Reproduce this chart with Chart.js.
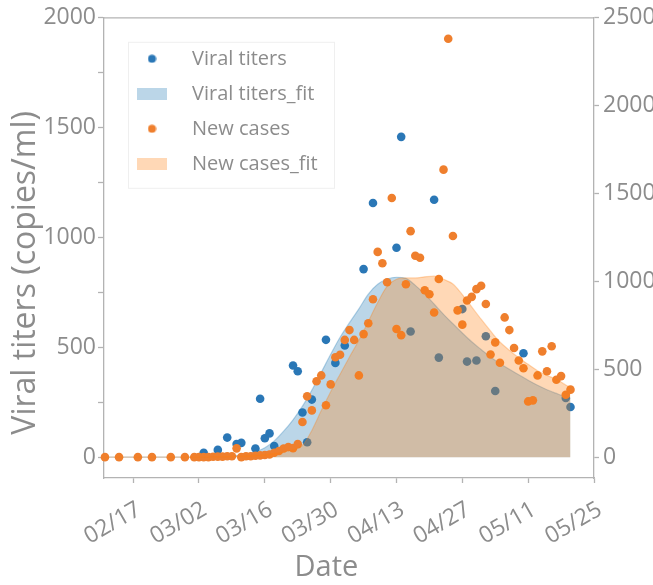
<!DOCTYPE html>
<html>
<head>
<meta charset="utf-8">
<script src="https://cdn.jsdelivr.net/npm/chart.js"></script>
<style>
  html, body { margin: 0; padding: 0; background: #fff; }
  canvas { display: block; }
</style>
</head>
<body>
<canvas id="chart" width="653" height="585"></canvas>
<script>
// x values are days counted from 02/17 (2020)
const dateTicks = ['02/17', '03/02', '03/16', '03/30', '04/13', '04/27', '05/11', '05/25'];
const tickDays = [0, 14, 28, 42, 56, 70, 84, 98];
const titerTicks = [0, 250, 500, 750, 1000, 1250, 1500, 1750, 2000];
const caseTicks = [0, 500, 1000, 1500, 2000, 2500];

// Viral titers (copies/ml), left axis
const titerDays = [15, 18, 20, 22, 23, 26, 27, 28, 29, 30, 34, 35, 36, 37, 38, 41, 43, 45, 49, 51,
  56, 57, 59, 64, 65, 70, 71, 73, 75, 77, 83, 92, 93];
const titerValues = [20, 33, 89, 60, 65, 39, 266, 86, 108, 51, 417, 391, 203, 68, 262, 534, 429, 508, 856, 1157,
  953, 1458, 572, 1172, 453, 674, 435, 440, 550, 301, 473, 269, 228];

// New cases, right axis
const caseDays = [-6, -3, 1, 4, 8, 11,
  13, 14, 15, 16, 17, 18, 19, 20, 21, 22, 23, 24, 25, 26, 27, 28, 29, 30, 31, 32,
  33, 34, 35, 36, 37, 38, 39, 40, 41, 42, 43, 44, 45, 46, 47, 48, 49, 50, 51, 52,
  53, 54, 55, 56, 57, 58, 59, 60, 61, 62, 63, 64, 65, 66, 67, 68, 69, 70, 71, 72,
  73, 74, 75, 76, 77, 78, 79, 80, 81, 82, 83, 84, 85, 86, 87, 88, 89, 90, 91, 92, 93];
const caseCounts = [0, 0, 0, 0, 0, 0,
  0, 0, 0, 0, 2, 3, 3, 5, 5, 50, 0, 5, 5, 8, 10, 12, 15, 25, 35, 49,
  58, 51, 74, 200, 346, 266, 432, 465, 295, 414, 568, 583, 667, 723, 667, 465, 700, 762, 898, 1168,
  1103, 995, 1475, 729, 694, 984, 1286, 1146, 1135, 950, 927, 823, 1014, 1636, 2381, 1258, 835, 754, 891, 912,
  956, 975, 871, 584, 653, 537, 795, 723, 621, 550, 506, 317, 323, 465, 602, 489, 631, 440, 461, 355, 384];

// fitted curves
const fitDays = [-6, 0, 8, 14, 16, 18, 20, 22, 24, 26, 28, 30, 32, 34, 36, 38, 40, 42, 44, 46, 48, 50,
  52, 54, 56, 58, 60, 62, 64, 66, 68, 70, 72, 74, 76, 78, 80, 82, 84, 86, 88, 90, 92, 93];
const titerFit = [0, 0, 0, 0, 1, 2, 4, 7, 13, 24, 43, 74, 118, 170, 232, 305, 386, 468, 546, 612, 675, 742,
  787, 811, 819, 814, 782, 742, 697, 650, 607, 565, 525, 490, 456, 426, 400, 375, 350, 327, 307, 290, 274, 268];
const caseFit = [0, 0, 0, 0, 1, 2, 3, 5, 7, 10, 14, 20, 29, 42, 66, 152, 265, 372, 472, 570, 665, 772,
  880, 972, 1012, 1020, 1020, 1026, 1030, 1012, 985, 925, 855, 785, 718, 655, 608, 565, 528, 492, 465, 443, 410, 397];

const BLUE = '#2a77b6';
const ORANGE = '#ef7f2d';
const BLUE_FILL = 'rgba(31,119,180,0.3)';
const ORANGE_FILL = 'rgba(255,127,14,0.3)';
const TEXT = '#8c8c8c';
const AXIS = '#b3b3b3';
const FONT = 'Open Sans';

const toPoints = (xs, ys) => xs.map((x, i) => ({x: x, y: ys[i]}));

function swatch(w, h, paint) {
    const c = document.createElement('canvas');
    c.width = w;
    c.height = h;
    paint(c.getContext('2d'));
    return c;
}
const dot = color => swatch(9, 9, ctx => {
    ctx.fillStyle = color;
    ctx.beginPath();
    ctx.arc(4.5, 4.5, 4, 0, Math.PI * 2);
    ctx.fill();
});
const patch = color => swatch(30, 12, ctx => {
    ctx.fillStyle = color;
    ctx.fillRect(0, 0, 30, 12);
});
const legendMarks = [dot(BLUE), patch(BLUE_FILL), dot(ORANGE), patch(ORANGE_FILL)];

// top spine, legend frame, and the legend moved a little into the plot
const framePlugin = {
    id: 'frame',
    afterLayout(chart) {
        const lg = chart.legend;
        const area = chart.chartArea;
        const h = lg.bottom - lg.top;
        lg.left = area.left + 3;
        lg.top = area.top + 16;
        lg.bottom = lg.top + h;
    },
    afterDraw(chart) {
        const {ctx, chartArea} = chart;
        ctx.save();
        ctx.strokeStyle = AXIS;
        ctx.lineWidth = 1.3;
        ctx.beginPath();
        ctx.moveTo(chartArea.left, chartArea.top);
        ctx.lineTo(chartArea.right, chartArea.top);
        ctx.stroke();
        ctx.strokeStyle = '#efefef';
        ctx.lineWidth = 1;
        ctx.strokeRect(chartArea.left + 24.5, chartArea.top + 24.5, 206, 146);
        ctx.restore();
    }
};

new Chart(
    document.getElementById('chart'),
    {
        type: 'scatter',
        data: {
            datasets: [
                {
                    label: 'Viral titers',
                    data: toPoints(titerDays, titerValues),
                    yAxisID: 'y',
                    backgroundColor: BLUE,
                    borderWidth: 0,
                    pointRadius: 4.3,
                    clip: false,
                    order: 4
                },
                {
                    type: 'line',
                    label: 'Viral titers_fit',
                    data: toPoints(fitDays, titerFit),
                    yAxisID: 'y',
                    backgroundColor: BLUE_FILL,
                    borderColor: BLUE_FILL,
                    borderWidth: 1.2,
                    pointRadius: 0,
                    fill: 'origin',
                    cubicInterpolationMode: 'monotone',
                    order: 3
                },
                {
                    label: 'New cases',
                    data: toPoints(caseDays, caseCounts),
                    yAxisID: 'y2',
                    backgroundColor: ORANGE,
                    borderWidth: 0,
                    pointRadius: 4.3,
                    clip: false,
                    order: 2
                },
                {
                    type: 'line',
                    label: 'New cases_fit',
                    data: toPoints(fitDays, caseFit),
                    yAxisID: 'y2',
                    backgroundColor: ORANGE_FILL,
                    borderColor: ORANGE_FILL,
                    borderWidth: 1.2,
                    pointRadius: 0,
                    fill: 'origin',
                    cubicInterpolationMode: 'monotone',
                    order: 1
                }
            ]
        },
        options: {
            responsive: false,
            animation: false,
            devicePixelRatio: 1,
            layout: {padding: {top: 16, left: 0, right: 0, bottom: 0}},
            plugins: {
                tooltip: {enabled: false},
                legend: {
                    position: 'chartArea',
                    align: 'start',
                    labels: {
                        usePointStyle: true,
                        pointStyleWidth: 60,
                        boxHeight: 12,
                        padding: 15,
                        color: TEXT,
                        font: {family: FONT, size: 20},
                        sort: (a, b) => a.datasetIndex - b.datasetIndex,
                        generateLabels: chart => {
                            const items = Chart.defaults.plugins.legend.labels.generateLabels(chart);
                            items.forEach(item => { item.pointStyle = legendMarks[item.datasetIndex]; });
                            return items;
                        }
                    }
                }
            },
            scales: {
                x: {
                    type: 'linear',
                    position: 'bottom',
                    min: -6.2,
                    max: 98,
                    afterBuildTicks: axis => { axis.ticks = tickDays.map(v => ({value: v})); },
                    afterFit: axis => { axis.height = 107; },
                    ticks: {
                        callback: value => dateTicks[tickDays.indexOf(value)],
                        minRotation: 30,
                        maxRotation: 30,
                        padding: 13,
                        labelOffset: 6,
                        color: TEXT,
                        font: {family: FONT, size: 23}
                    },
                    grid: {drawOnChartArea: false, tickLength: 5, tickColor: AXIS, tickWidth: 1.3},
                    border: {color: AXIS, width: 1.3},
                    title: {
                        display: true,
                        text: 'Date      ',
                        color: TEXT,
                        font: {family: FONT, size: 29},
                        padding: {top: 0, bottom: 0}
                    }
                },
                y: {
                    position: 'left',
                    min: -95,
                    max: 2000,
                    afterBuildTicks: axis => { axis.ticks = titerTicks.map(v => ({value: v})); },
                    afterFit: axis => { axis.width = 104; },
                    ticks: {
                        callback: value => (value % 500 === 0 ? String(value) : ''),
                        padding: 2,
                        color: TEXT,
                        font: {family: FONT, size: 23}
                    },
                    grid: {drawOnChartArea: false, tickLength: 6, tickColor: AXIS, tickWidth: 1.3},
                    border: {color: AXIS, width: 1.3},
                    title: {
                        display: true,
                        text: 'Viral titers (copies/ml)      ',
                        color: TEXT,
                        font: {family: FONT, size: 32},
                        padding: {top: 7, bottom: 0}
                    }
                },
                y2: {
                    position: 'right',
                    min: -118.75,
                    max: 2500,
                    afterBuildTicks: axis => { axis.ticks = caseTicks.map(v => ({value: v})); },
                    afterFit: axis => { axis.width = 59; },
                    ticks: {
                        callback: value => String(value),
                        padding: 4,
                        color: TEXT,
                        font: {family: FONT, size: 23}
                    },
                    grid: {drawOnChartArea: false, tickLength: 5, tickColor: AXIS, tickWidth: 1.3},
                    border: {color: AXIS, width: 1.3}
                }
            }
        },
        plugins: [framePlugin]
    }
);
</script>
</body>
</html>
